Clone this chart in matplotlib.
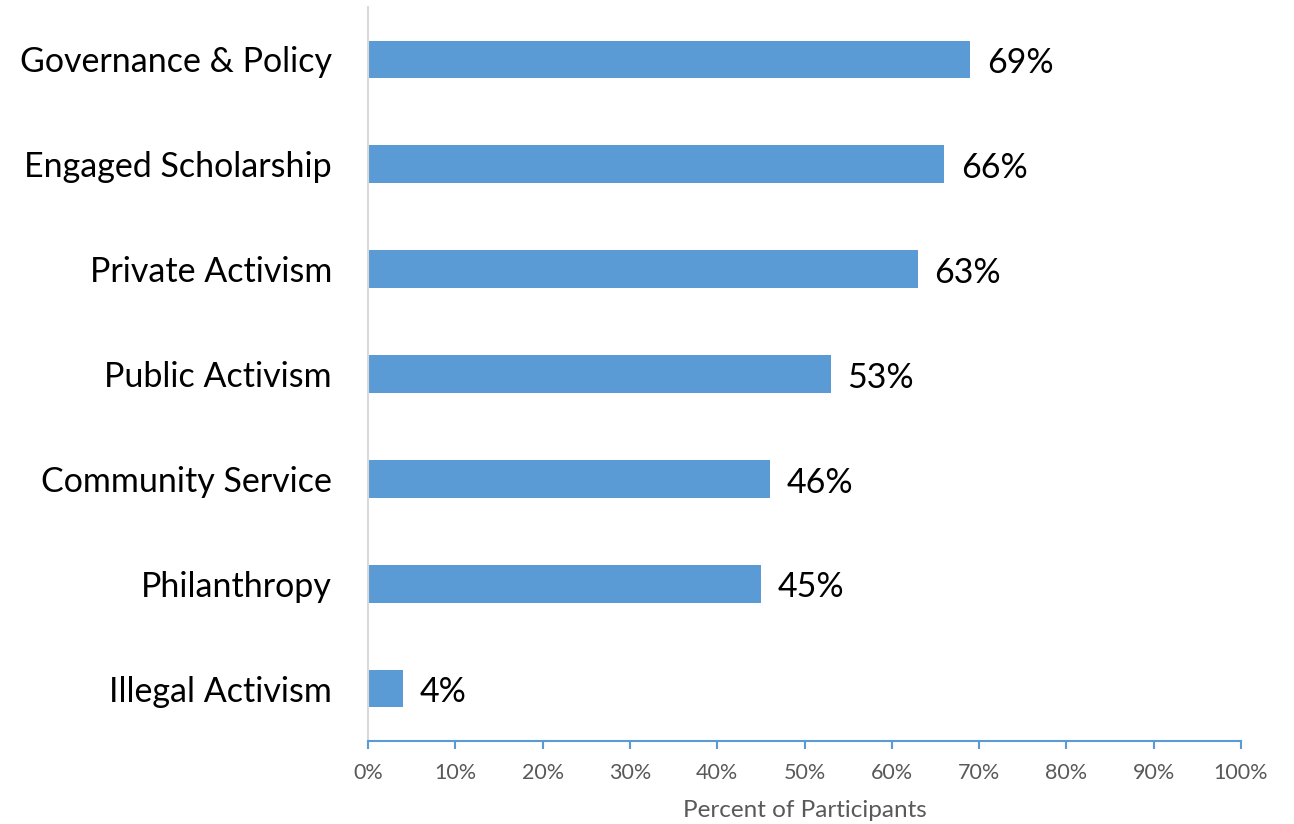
import matplotlib
matplotlib.use("Agg")
import matplotlib.pyplot as plt
from matplotlib.ticker import PercentFormatter

plt.rcParams['font.family'] = ['Lato', 'DejaVu Sans']

categories = ["Governance & Policy", "Engaged Scholarship", "Private Activism",
              "Public Activism", "Community Service", "Philanthropy", "Illegal Activism"]
percent = [69, 66, 63, 53, 46, 45, 4]
xticks = list(range(0, 101, 10))

fig = plt.figure(figsize=(12.94, 8.24), dpi=100)
ax = fig.add_axes([368 / 1294, (824 - 741) / 824, (1241 - 368) / 1294, (741 - 7) / 824])

ypos = list(range(len(categories)))[::-1]
bar_color = "#5b9bd5"
ax.barh(ypos, percent, height=0.36, color=bar_color)

# value labels just right of each bar, sitting a touch below centre
for y, v in zip(ypos, percent):
    ax.text(v + 1.9, y - 0.035, f"{v}%", va="center", ha="left", fontsize=24.5, color="black")

ax.set_xlim(0, 100)
ax.set_ylim(-0.5, len(categories) - 0.5)
ax.set_yticks(ypos)
ax.set_yticklabels(categories, fontsize=24.5, color="black")
ax.tick_params(axis="y", length=0, pad=26)

ax.set_xticks(xticks)
ax.xaxis.set_major_formatter(PercentFormatter(decimals=0))
ax.tick_params(axis="x", colors=bar_color, length=6, width=1.5, labelsize=15.5,
               labelcolor="#595959", pad=10)
ax.set_xlabel("Percent of Participants", fontsize=17.5, color="#595959", labelpad=12)

for side in ["top", "right"]:
    ax.spines[side].set_visible(False)
ax.spines["left"].set_color("#d9d9d9")
ax.spines["left"].set_linewidth(1.5)
ax.spines["bottom"].set_color(bar_color)
ax.spines["bottom"].set_linewidth(1.5)

fig.savefig("out.png", dpi=100)
